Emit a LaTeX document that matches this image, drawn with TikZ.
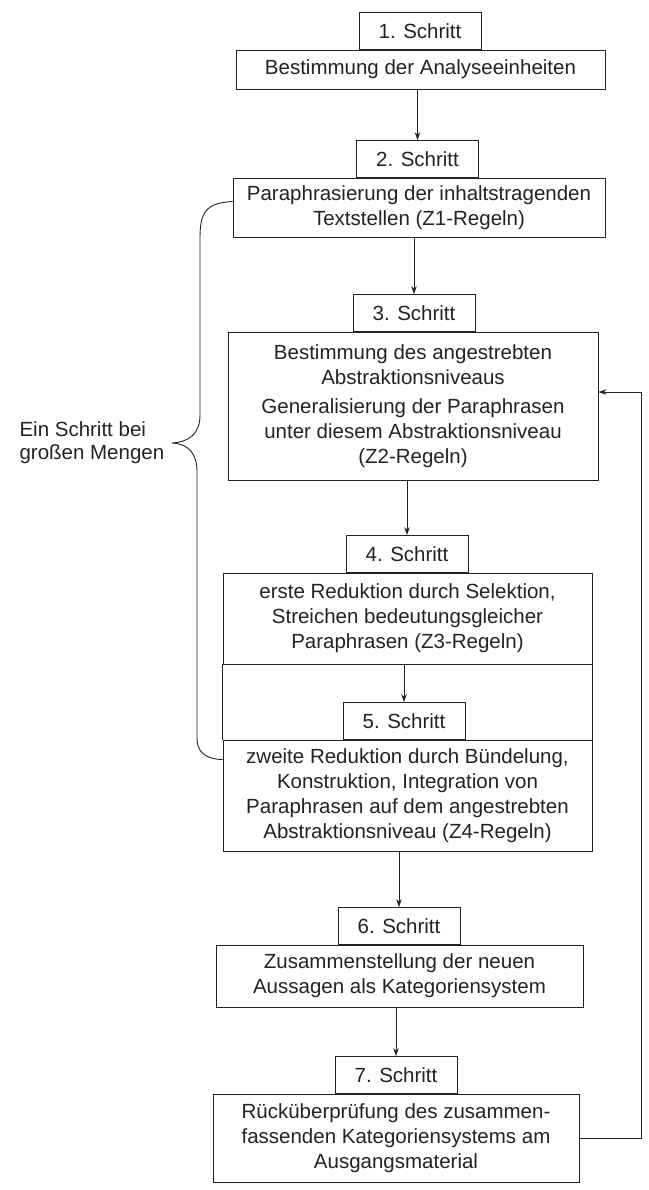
\documentclass[tikz,border=0pt]{standalone}
\usepackage{fontspec}
\setmainfont{Liberation Sans}
\usetikzlibrary{arrows.meta,calc}
\definecolor{ink}{RGB}{35,35,35}
\begin{document}
\begin{tikzpicture}[x=1pt,y=-1pt,
  every node/.style={font=\fontsize{20.5}{25}\selectfont, text=ink},
  box/.style={draw=ink, line width=0.9pt, fill=white, inner sep=0pt, align=center},
  lab/.style={draw=ink, line width=0.9pt, fill=white, inner sep=0pt, minimum width=122pt, minimum height=37pt, anchor=south},
  arr/.style={draw=ink, line width=0.9pt, -{Stealth[length=8pt,width=5.5pt]}},
  ln/.style={draw=ink, line width=0.9pt}]
\useasboundingbox (0,0) rectangle (648,1190);

% main boxes
\node[box, minimum width=369pt, minimum height=39pt] (b1) at (420.5,69.5) {Bestimmung der Analyseeinheiten};
\node[box, minimum width=372pt, minimum height=59pt] (b2) at (419,207.5) {Paraphrasierung der inhaltstragenden\\Textstellen (Z1-Regeln)};
\node[box, minimum width=370pt, minimum height=148pt] (b3) at (413,406) {Bestimmung des angestrebten\\Abstraktionsniveaus\\[4pt]Generalisierung der Paraphrasen\\unter diesem Abstraktionsniveau\\(Z2-Regeln)};
\node[box, minimum width=369pt, minimum height=91pt] (b4) at (407.5,618.5) {erste Reduktion durch Selektion,\\Streichen bedeutungsgleicher\\Paraphrasen (Z3-Regeln)};
\node[box, minimum width=369pt, minimum height=111pt] (b5) at (407.5,795.5) {zweite Reduktion durch Bündelung,\\Konstruktion, Integration von\\Paraphrasen auf dem angestrebten\\Abstraktionsniveau (Z4-Regeln)};
\node[box, minimum width=367pt, minimum height=62pt] (b6) at (399.5,976) {Zusammenstellung der neuen\\Aussagen als Kategoriensystem};
\node[box, minimum width=366pt, minimum height=88pt] (b7) at (396,1138) {Rücküberprüfung des zusammen-\\fassenden Kategoriensystems am\\Ausgangsmaterial};

% step labels
\node[lab] (l1) at (420,50) {1. Schritt};
\node[lab] (l2) at (417.5,178) {2. Schritt};
\node[lab] (l3) at (414,332) {3. Schritt};
\node[lab] (l4) at (407,573) {4. Schritt};
\node[lab] (l5) at (404,740) {5. Schritt};
\node[lab] (l6) at (399,945) {6. Schritt};
\node[lab] (l7) at (396,1094) {7. Schritt};

% side walls joining box 4 and box 5
\draw[ln] (b4.south west) -- (b5.north west);
\draw[ln] (b4.south east) -- (b5.north east);

% arrows
\draw[arr] (b1.south -| l2.north) -- (l2.north);
\draw[arr] (b2.south -| l3.north) -- (l3.north);
\draw[arr] (b3.south -| l4.north) -- (l4.north);
\draw[arr] (b4.south -| l5.north) -- (l5.north);
\draw[arr] (b5.south -| l6.north) -- (l6.north);
\draw[arr] (b6.south -| l7.north) -- (l7.north);

% feedback loop
\coordinate (fr) at (641,392);
\draw[arr] (b7.east) -| (fr) -- (b3.east |- fr);

% brace
\coordinate (bt) at ($(b2.west)+(0,-6)$);
\coordinate (bb) at ($(b5.north west)+(0,20)$);
\draw[ln] (bt) .. controls (206,203) and (200,212) .. (200,238) -- (200,415)
  .. controls (200,433) and (190,442) .. (172,443)
  .. controls (190,444) and (197,455) .. (197,472) -- (197,738)
  .. controls (197,752) and (205,759) .. (bb);
\node[anchor=west, align=left, font=\fontsize{20.5}{23}\selectfont] (bl) at (16,443) {Ein Schritt bei\\großen Mengen};
\end{tikzpicture}
\end{document}
